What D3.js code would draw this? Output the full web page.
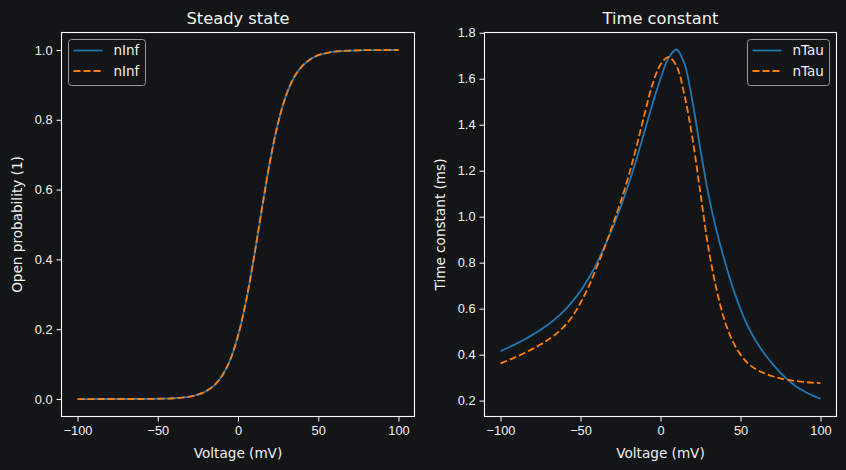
<!DOCTYPE html>
<html><head><meta charset="utf-8">
<script src="https://cdn.jsdelivr.net/npm/d3@7"></script>
<style>
html,body{margin:0;padding:0;background:#131517;}
svg{display:block;font-family:"DejaVu Sans",sans-serif;}
</style></head>
<body><svg id="c" width="846" height="470"></svg>
<script>
const voltage = [-100,-95,-90,-85,-80,-75,-70,-65,-60,-55,-50,-45,-40,-35,-30,-25,-20,-15,-10,-5,0,5,10,15,20,25,30,35,40,45,50,55,60,65,70,75,80,85,90,95,100];
const nInfA = [0.0000,0.0000,0.0000,0.0001,0.0001,0.0001,0.0001,0.0001,0.0002,0.0005,0.0008,0.0013,0.0023,0.0041,0.0072,0.0127,0.0223,0.0386,0.0662,0.111,0.181,0.280,0.407,0.548,0.682,0.791,0.870,0.922,0.954,0.973,0.985,0.991,0.995,0.997,0.998,0.999,0.9995,0.9997,0.9998,0.9999,0.9999];
const nInfB = nInfA.slice();
const nTauA = [0.415,0.431,0.448,0.466,0.486,0.508,0.532,0.560,0.593,0.632,0.677,0.731,0.795,0.870,0.950,1.040,1.140,1.250,1.370,1.490,1.600,1.690,1.727,1.665,1.500,1.290,1.095,0.940,0.810,0.695,0.598,0.518,0.455,0.404,0.360,0.321,0.288,0.260,0.240,0.223,0.209];
const nTauB = [0.362,0.376,0.391,0.407,0.425,0.444,0.466,0.492,0.524,0.567,0.625,0.695,0.778,0.866,0.962,1.062,1.175,1.305,1.445,1.575,1.662,1.694,1.655,1.528,1.340,1.100,0.862,0.684,0.550,0.460,0.400,0.360,0.335,0.319,0.306,0.297,0.290,0.285,0.281,0.278,0.276];
const xTicks = [-100,-50,0,50,100];
const yTicksInf = [0.0,0.2,0.4,0.6,0.8,1.0];
const yTicksTau = [0.2,0.4,0.6,0.8,1.0,1.2,1.4,1.6,1.8];
const titles = ["Steady state","Time constant"];
const yLabels = ["Open probability (1)","Time constant (ms)"];
const xLabel = "Voltage (mV)";

const BLUE="#1f77b4", ORANGE="#ff7f0e", FG="#ffffff", TXT="#f2f2f2";
const svg = d3.select("#c");

function panel(opt){
  const {left,right,top,bottom,ydom,yticks,a,b,name,title,ylabel,legendRight} = opt;
  const x = d3.scaleLinear().domain([-110,110]).range([left,right]);
  const y = d3.scaleLinear().domain(ydom).range([bottom,top]);
  const g = svg.append("g");
  const xa = g.append("g").attr("transform",`translate(0,${bottom})`)
    .call(d3.axisBottom(x).tickValues(xTicks).tickSize(5).tickPadding(4)
      .tickFormat(d=>d3.format("d")(d).replace("-","\u2212")));
  const ya = g.append("g").attr("transform",`translate(${left},0)`)
    .call(d3.axisLeft(y).tickValues(yticks).tickSize(5).tickPadding(4).tickFormat(d3.format(".1f")));
  [xa,ya].forEach(ax=>{
    ax.select(".domain").remove();
    ax.selectAll("line").attr("stroke",FG).attr("stroke-width",1);
    ax.selectAll("text").attr("fill",TXT).style("font-size","12.8px");
  });
  xa.selectAll("text").attr("dy","0.75em");
  const line = d3.line().x((d,i)=>x(voltage[i])).y(d=>y(d)).curve(d3.curveCatmullRom.alpha(0.5));
  g.append("path").datum(a).attr("d",line).attr("fill","none").attr("stroke",BLUE).attr("stroke-width",1.8);
  g.append("path").datum(b).attr("d",line).attr("fill","none").attr("stroke",ORANGE).attr("stroke-width",1.8).attr("stroke-dasharray","7,3");
  g.append("rect").attr("x",left).attr("y",top).attr("width",right-left).attr("height",bottom-top)
    .attr("fill","none").attr("stroke",FG).attr("stroke-width",1.1);
  g.append("text").attr("x",(left+right)/2).attr("y",top-9).attr("text-anchor","middle")
    .attr("fill",TXT).style("font-size","16.3px").text(title);
  g.append("text").attr("x",(left+right)/2).attr("y",458).attr("text-anchor","middle")
    .attr("fill",TXT).style("font-size","13.6px").text(xLabel);
  g.append("text").attr("transform",`translate(${left-40},${(top+bottom)/2}) rotate(-90)`)
    .attr("text-anchor","middle").attr("fill",TXT).style("font-size","13.6px").text(ylabel);
  const lw = legendRight ? 82 : 77;
  const lx = legendRight ? right-7-lw : left+7;
  const lg = g.append("g").attr("transform",`translate(${lx},39.5)`);
  lg.append("rect").attr("width",lw).attr("height",46).attr("rx",3)
    .attr("fill","#131517").attr("stroke","#9a9a9a").attr("stroke-width",1);
  [[BLUE,null,11],[ORANGE,"7,3",31.5]].forEach(([c,da,yy])=>{
    lg.append("line").attr("x1",5).attr("x2",34).attr("y1",yy).attr("y2",yy)
      .attr("stroke",c).attr("stroke-width",1.8).attr("stroke-dasharray",da);
    lg.append("text").attr("x",45).attr("y",yy+4.8).attr("fill",TXT)
      .style("font-size","13.5px").text(name);
  });
}

panel({left:61.5,right:414.5,top:32.5,bottom:416.5,ydom:[-0.05,1.05],yticks:yTicksInf,
  a:nInfA,b:nInfB,name:"nInf",title:titles[0],ylabel:yLabels[0],legendRight:false});
panel({left:484.5,right:836.5,top:32.5,bottom:416.5,ydom:[0.131,1.801],yticks:yTicksTau,
  a:nTauA,b:nTauB,name:"nTau",title:titles[1],ylabel:yLabels[1],legendRight:true});
</script></body></html>
